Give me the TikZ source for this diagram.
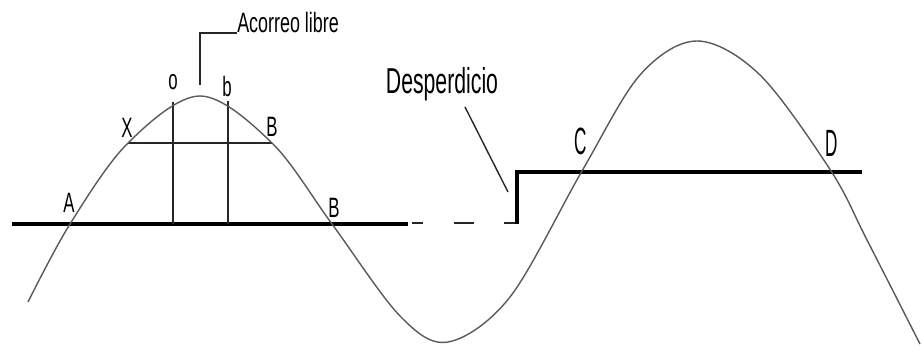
\documentclass[tikz,border=0pt]{standalone}
\usepackage{fontspec}
\setmainfont{Liberation Sans}
\usetikzlibrary{positioning}
\tikzset{
    wave/.style={draw=black!65, line width=0.7pt, line join=round},
    thinline/.style={draw=black!85, line width=0.7pt},
    heavyline/.style={draw=black, line width=2pt},
    ptlabel/.style={font=\fontsize{14}{14}\selectfont, inner sep=0pt, xscale=0.6, transform shape},
    notelabel/.style={font=\fontsize{14}{14}\selectfont, inner sep=0pt, xscale=0.64, transform shape},
    biglabel/.style={font=\fontsize{19}{19}\selectfont, inner sep=0pt, xscale=0.45, transform shape},
    desplabel/.style={font=\fontsize{18}{18}\selectfont, inner sep=0pt, xscale=0.59, transform shape},
}

\begin{document}
\begin{tikzpicture}[x=0.5pt, y=-0.5pt]
    \useasboundingbox (0,0) rectangle (922,356);
    % points on the wave
    \coordinate (A) at (70,224);
    \coordinate (X) at (128,143);
    \coordinate (crest) at (200,96);
    \coordinate (otop) at (173,102);
    \coordinate (btop) at (228,101);
    \coordinate (Bup) at (272,143);
    \coordinate (Blow) at (332,224);

    % reference lines
    \draw[heavyline] (12,224) -- (408,224);
    \draw[thinline, dash pattern=on 5.5pt off 15.5pt on 10pt off 15pt on 7pt] (412,223) -- (518,223);
    \draw[heavyline] (517,224) -- (517,172) -- (862,172);

    % chord and verticals
    \draw[thinline] (X) -- (Bup);
    \draw[thinline] (otop) -- (otop |- A);
    \draw[thinline] (btop) -- (btop |- A);

    % wave
    \draw[wave] plot[smooth, tension=0.55] coordinates {
        (28,302) (A) (X) (crest) (Bup) (Blow) (400,316)
        (448,342) (510,297) (582,171) (640,75) (697,41) (760,75)
        (831,171) (867,240) (920,344)};

    % labels
    \node[ptlabel, anchor=base] (lA) at (69,213) {A};
    \node[ptlabel, anchor=base] (lX) at (127,138) {X};
    \node[ptlabel, anchor=base] (lBup) at (272,137) {B};
    \node[ptlabel, anchor=base] (lBlow) at (334,218) {B};
    \node[ptlabel, anchor=base] (lo) at (173,90) {o};
    \node[ptlabel, anchor=base] (lb) at (227,97) {b};
    \node[biglabel, anchor=base] (lC) at (581,155) {C};
    \node[biglabel, anchor=base] (lD) at (832,157) {D};

    % notes
    \coordinate (apex) at (200,85);
    \node[notelabel, anchor=base west] (acorreo) at (237,33) {Acorreo libre};
    \draw[thinline] (apex) |- (acorreo.base west);

    \node[desplabel, anchor=base] (desp) at (442,94) {Desperdicio};
    \coordinate (desptip) at (465,107);
    \coordinate (despfoot) at (508,192);
    \draw[thinline] (desptip) -- (despfoot);
\end{tikzpicture}
\end{document}
